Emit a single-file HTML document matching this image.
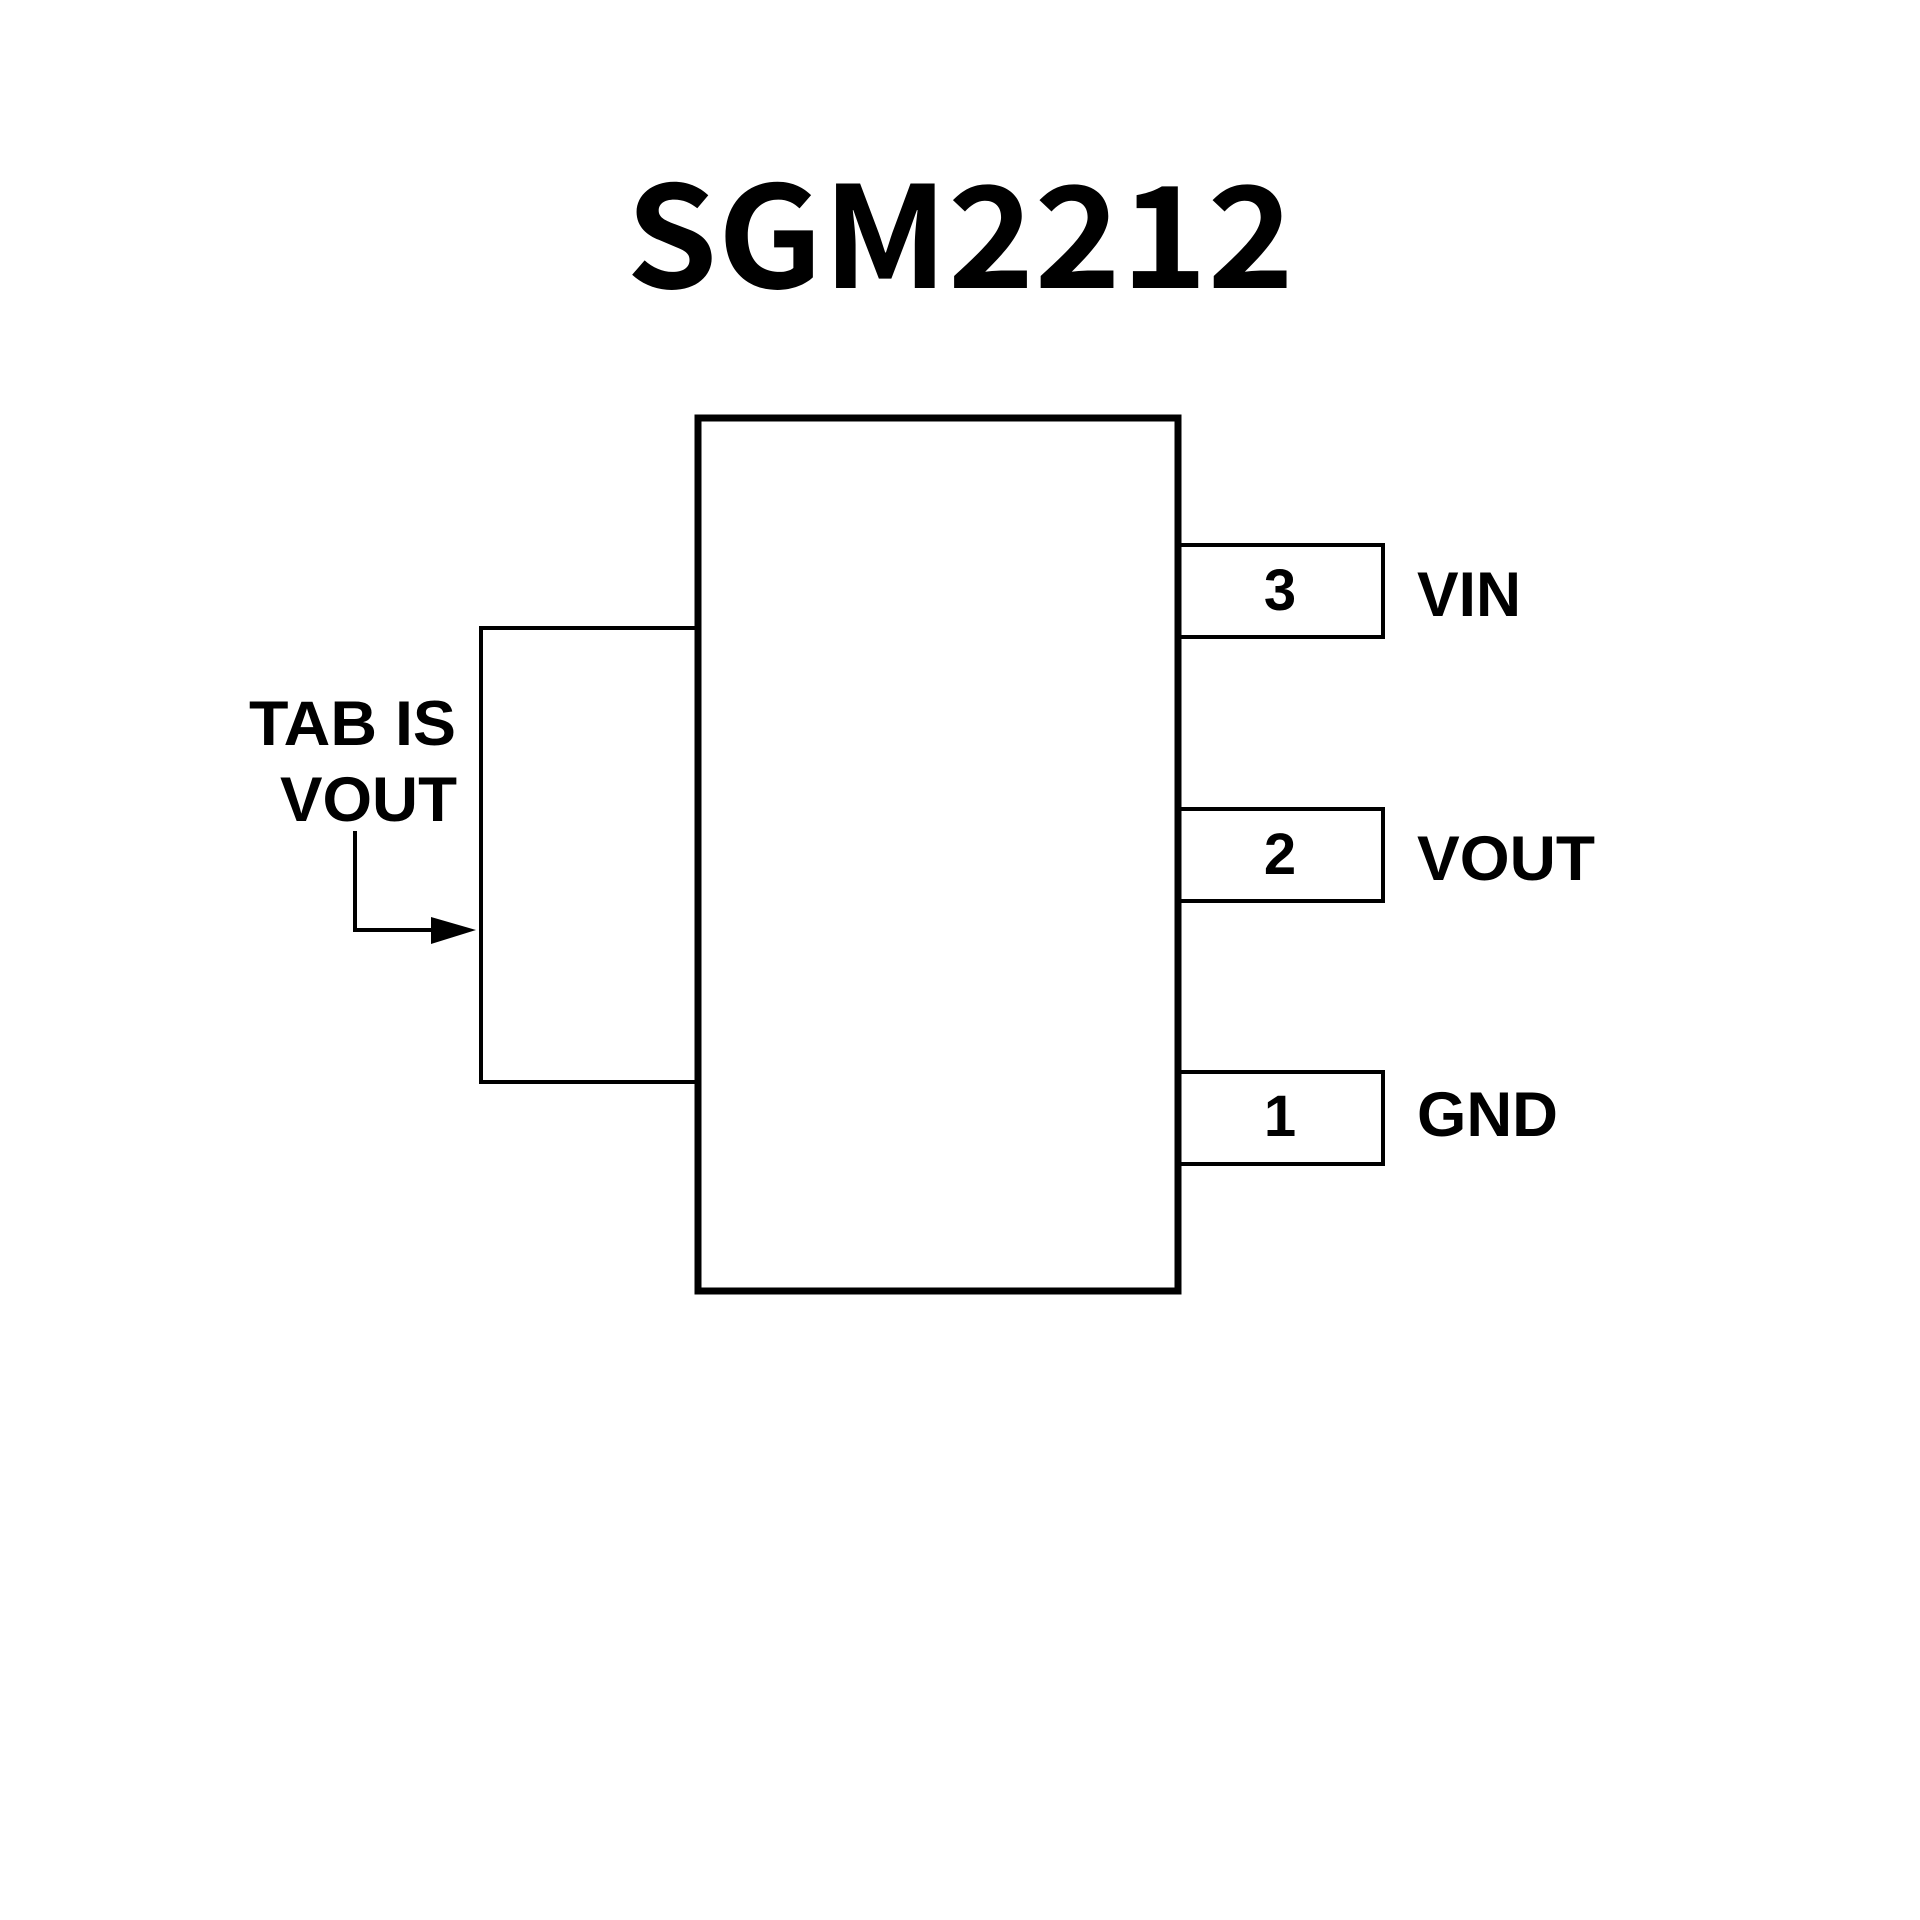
<!DOCTYPE html>
<html><head><meta charset="utf-8"><style>
html,body{margin:0;padding:0;background:#fff;}
svg{display:block;}
</style></head><body>
<svg width="1920" height="1920" viewBox="0 0 1920 1920" xmlns="http://www.w3.org/2000/svg">
<rect width="1920" height="1920" fill="#fff"/>
<text x="626" y="288" font-family="'Noto Sans CJK SC','Liberation Sans',sans-serif" font-weight="bold" font-size="141" textLength="668" lengthAdjust="spacingAndGlyphs">SGM2212</text>
<rect x="698" y="418" width="480" height="873" fill="none" stroke="#000" stroke-width="7"/>
<polyline points="698,628 481,628 481,1082 698,1082" fill="none" stroke="#000" stroke-width="4"/>
<polyline points="1180,545 1383,545 1383,637 1180,637" fill="none" stroke="#000" stroke-width="4"/>
<polyline points="1180,809 1383,809 1383,901 1180,901" fill="none" stroke="#000" stroke-width="4"/>
<polyline points="1180,1072 1383,1072 1383,1164 1180,1164" fill="none" stroke="#000" stroke-width="4"/>
<g font-family="'Liberation Sans',sans-serif" font-weight="bold" fill="#000">
<text x="1280" y="610" font-size="58" text-anchor="middle">3</text>
<text x="1280" y="874" font-size="58" text-anchor="middle">2</text>
<text x="1280" y="1136" font-size="58" text-anchor="middle">1</text>
<text x="1417" y="616" font-size="63" textLength="104" lengthAdjust="spacingAndGlyphs">VIN</text>
<text x="1417" y="880" font-size="63" textLength="178" lengthAdjust="spacingAndGlyphs">VOUT</text>
<text x="1417" y="1136" font-size="63" textLength="141" lengthAdjust="spacingAndGlyphs">GND</text>
<text x="249" y="745" font-size="63" textLength="207" lengthAdjust="spacingAndGlyphs">TAB IS</text>
<text x="280" y="821" font-size="63" textLength="177" lengthAdjust="spacingAndGlyphs">VOUT</text>
</g>
<polyline points="355,831 355,930 436,930" fill="none" stroke="#000" stroke-width="4"/>
<polygon points="431,917 476,930 431,944" fill="#000"/>
</svg>
</body></html>
